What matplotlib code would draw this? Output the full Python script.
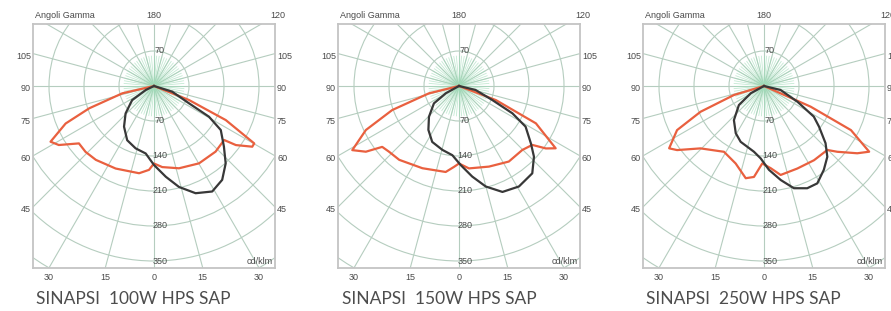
import numpy as np
import matplotlib.pyplot as plt
from matplotlib.patches import Circle

# titoli sotto i diagrammi
titles = ["SINAPSI  100W HPS SAP", "SINAPSI  150W HPS SAP", "SINAPSI  250W HPS SAP"]

# curva rossa (piano trasversale): angolo gamma [deg], intensita [cd/klm]
red_gamma_100 = [-90, -77, -71, -67, -61.7, -58.2, -52.6, -46.1, -38.2, -24.9, -9.7, -3.4, 0,
                 5.8, 16.9, 30.2, 43.2, 52.4, 54.2, 58.3, 60.2, 64.6, 68.2, 90]
red_int_100 = [0, 65, 137, 192, 235, 224, 189, 190, 188, 182, 177, 168, 155,
               163, 172, 179, 180, 177, 202, 231, 231, 159, 75, 0]

red_gamma_150 = [-90, -76.3, -70.2, -64.7, -59.0, -54.8, -51.6, -46.8, -39.0, -24.0, -8.8, -3.5, 0,
                 6.9, 20.4, 33.4, 44.7, 51.2, 54.3, 57.2, 64.1, 69.1, 90]
red_int_150 = [0, 62, 142, 206, 249, 228, 196, 192, 190, 180, 174, 162, 155,
               166, 172, 181, 180, 188, 214, 230, 171, 79, 0]

red_gamma_250 = [-90, -73.3, -67.9, -63.1, -56.7, -53.6, -45.5, -31.3, -20.1, -11.2, -6.3, -1.3,
                 4.7, 10.6, 22.0, 34.0, 44.7, 48.1, 54.2, 58.0, 63.1, 66.1, 90]
red_int_250 = [0, 63, 137, 195, 227, 216, 178, 154, 165, 188, 183, 155,
               165, 181, 178, 179, 180, 197, 230, 248, 195, 102, 0]

# curva nera (piano longitudinale)
blk_gamma_100 = [-70, -64.3, -57.2, -46.0, -36.4, -26.3, -16.4, -7.0, 0, 7.4, 13.9, 21.2, 28.9,
                 36.0, 42.8, 49.1, 56.6, 60.8, 63.7, 72.7, 80]
blk_int_100 = [0, 18, 52, 79, 101, 121, 130, 136, 158, 183, 208, 230, 241,
               232, 211, 185, 160, 126, 78, 38, 0]

blk_gamma_150 = [-70, -61.2, -55.3, -44.3, -34.9, -25.6, -14.6, -5.5, 1.2, 8.3, 14.9, 22.3, 30.8,
                 40.0, 46.7, 51.4, 58.6, 62.9, 67.2, 76.5, 85]
blk_int_150 = [0, 30, 61, 86, 107, 124, 132, 139, 158, 183, 208, 229, 234,
               228, 206, 184, 156, 120, 72, 34, 0]

blk_gamma_250 = [-70, -61.2, -52.8, -41.4, -30.9, -22.7, -8.7, -2.6, 3.4, 10.1, 16.3, 22.9, 28.7,
                 35.5, 41.8, 47.1, 53.5, 58.4, 64.8, 76.5, 85]
blk_int_250 = [0, 30, 63, 91, 110, 121, 133, 145, 168, 191, 213, 222, 222,
               206, 190, 168, 137, 117, 74, 34, 0]

circle_values = [70, 140, 210, 280, 350]
side_angles = [45, 60, 75, 90, 105]
bottom_angles = [-30, -15, 0, 15, 30]

red_curves = [(red_gamma_100, red_int_100), (red_gamma_150, red_int_150), (red_gamma_250, red_int_250)]
blk_curves = [(blk_gamma_100, blk_int_100), (blk_gamma_150, blk_int_150), (blk_gamma_250, blk_int_250)]

W, H = 891, 311
XL, XR, YT, YB = -242, 242, 124, -364

grid_col = "#b5cdbf"
txt_col = "#4a4a4a"
tick_font = dict(fontsize=6.5, color=txt_col, family="Liberation Sans")


def to_xy(g, r):
    g = np.radians(np.array(g, dtype=float))
    r = np.array(r, dtype=float)
    return r * np.sin(g), -r * np.cos(g)


fig = plt.figure(figsize=(W / 100, H / 100), dpi=100)

for i in range(3):
    ax = fig.add_axes([(33 + 305 * i) / W, (H - 268) / H, 242 / W, 244 / H])
    ax.set_xlim(XL, XR)
    ax.set_ylim(YB, YT)
    ax.set_xticks([])
    ax.set_yticks([])
    for s in ax.spines.values():
        s.set_color("#c4c4c4")
        s.set_linewidth(1.3)

    # griglia polare
    for rr in range(70, 491, 70):
        ax.add_patch(Circle((0, 0), rr, fill=False, ec=grid_col, lw=0.8, zorder=1))
    for a in range(0, 360, 15):
        t = np.radians(a)
        ax.plot([0, 700 * np.sin(t)], [0, -700 * np.cos(t)], color=grid_col, lw=0.8, zorder=1)
    for a in range(0, 360, 5):
        t = np.radians(a)
        ax.plot([0, 60 * np.sin(t)], [0, -60 * np.cos(t)], color="#9fdcb8", lw=0.6, alpha=0.6, zorder=1)

    # curve
    x, y = to_xy(*red_curves[i])
    ax.plot(x, y, color="#e9603f", lw=1.6, zorder=3, solid_joinstyle="round")
    x, y = to_xy(*blk_curves[i])
    ax.plot(x, y, color="#383838", lw=1.6, zorder=4, solid_joinstyle="round")

    # etichette cerchi
    ax.text(12, 70, "70", ha="center", va="center", zorder=5, **tick_font)
    for c in circle_values:
        ax.text(12, -c, str(c), ha="center", va="center", zorder=5, **tick_font)

    # etichette angoli laterali
    for a in side_angles:
        yy = -XR / np.tan(np.radians(a)) - 6
        ax.text(XL - 4, yy, str(a), ha="right", va="center", clip_on=False, **tick_font)
        ax.text(XR + 4, yy, str(a), ha="left", va="center", clip_on=False, **tick_font)
    for a in bottom_angles:
        xx = -YB * np.tan(np.radians(a))
        ax.text(xx, YB - 20, str(abs(a)), ha="center", va="center", clip_on=False, **tick_font)

    ax.text(XL + 4, YT + 16, "Angoli Gamma", ha="left", va="center", clip_on=False, **tick_font)
    ax.text(0, YT + 17, "180", ha="center", va="center", clip_on=False, **tick_font)
    ax.text(XR + 5, YT + 17, "120", ha="center", va="center", clip_on=False, **tick_font)
    ax.text(XR - 4, -350, "cd/klm", ha="right", va="center", **tick_font)

    ax.text(XL + 7, -427, titles[i], ha="left", va="center", clip_on=False,
            fontsize=12.5, color="#4d4d4d", family="Lato")

fig.savefig("out.png", dpi=100)
